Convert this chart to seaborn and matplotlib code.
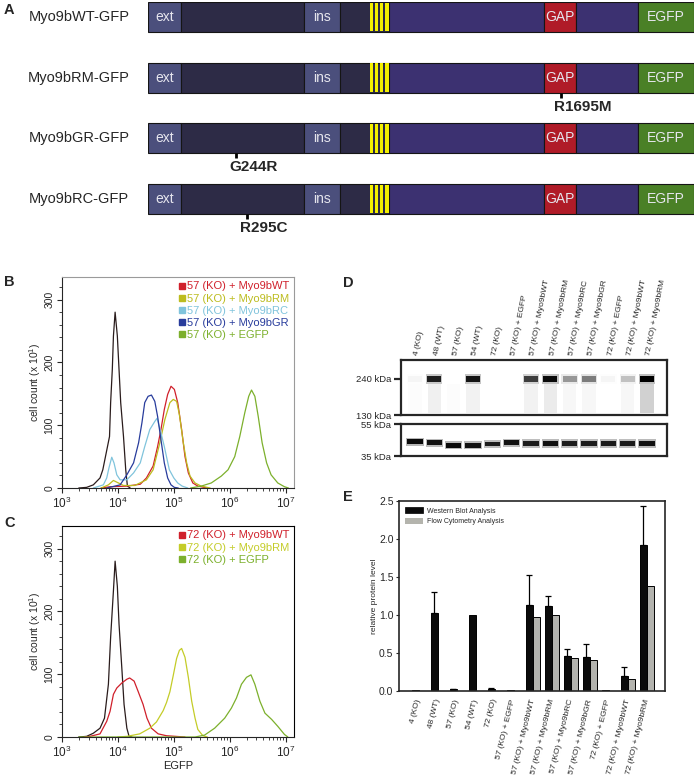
import numpy as np
import pandas as pd
import seaborn as sns
import matplotlib.pyplot as plt
import matplotlib.ticker as mticker
import matplotlib.transforms as mtrans
from matplotlib.lines import Line2D
from matplotlib.patches import Patch

# ---------------- data ----------------
# A: construct schematic (schematic units along the construct)
constructs = ['Myo9bWT-GFP', 'Myo9bRM-GFP', 'Myo9bGR-GFP', 'Myo9bRC-GFP']
dom_names = ['ext', '', 'ins', '', '', 'GAP', '', 'EGFP']
dom_start = [0, 33, 156, 192, 241, 396, 428, 490]
dom_end = [33, 156, 192, 241, 396, 428, 490, 546]
dom_colors = ['#4b4f7c', '#2d2b46', '#4b4f7c', '#2d2b46', '#3c3171', '#b01b28', '#3c3171', '#4a8026']
iq_start = [222, 227, 232, 237]
iq_width = [3.4, 3.4, 3.4, 4.0]
mut_row = [1, 2, 3]
mut_pos = [413, 88, 99]
mut_label = ['R1695M', 'G244R', 'R295C']

# B / C: flow cytometry histograms (log10 EGFP, cell count x10)
b_samples = ['control', '57 (KO) + Myo9bWT', '57 (KO) + Myo9bRM', '57 (KO) + Myo9bRC',
             '57 (KO) + Myo9bGR', '57 (KO) + EGFP']
b_x = {
    'control': [3.30, 3.44, 3.56, 3.68, 3.73, 3.85, 3.87, 3.90, 3.92, 3.95, 3.99, 4.02, 4.05, 4.10, 4.14, 4.17, 4.22],
    '57 (KO) + Myo9bWT': [3.70, 3.86, 4.16, 4.40, 4.51, 4.63, 4.71, 4.77, 4.83, 4.89, 4.95, 5.01, 5.07, 5.14, 5.20, 5.26, 5.34, 5.43, 5.60],
    '57 (KO) + Myo9bRM': [3.70, 3.83, 3.92, 4.01, 4.10, 4.30, 4.51, 4.63, 4.75, 4.84, 4.93, 4.99, 5.05, 5.10, 5.17, 5.23, 5.29, 5.38, 5.49, 5.65],
    '57 (KO) + Myo9bRC': [3.56, 3.74, 3.80, 3.84, 3.89, 3.93, 3.98, 4.04, 4.16, 4.28, 4.40, 4.48, 4.57, 4.66, 4.70, 4.77, 4.83, 4.92, 5.00, 5.07, 5.15, 5.25],
    '57 (KO) + Myo9bGR': [3.80, 4.04, 4.16, 4.28, 4.37, 4.43, 4.48, 4.54, 4.60, 4.66, 4.71, 4.77, 4.83, 4.89, 4.95, 5.01, 5.08],
    '57 (KO) + EGFP': [5.30, 5.49, 5.67, 5.85, 5.97, 6.09, 6.18, 6.27, 6.34, 6.39, 6.45, 6.51, 6.58, 6.66, 6.74, 6.86, 6.98, 7.05],
}
b_y = {
    'control': [0, 1, 5, 16, 29, 82, 136, 189, 242, 280, 242, 189, 136, 82, 29, 3, 0],
    '57 (KO) + Myo9bWT': [0, 2, 3, 6, 16, 35, 66, 93, 125, 149, 162, 157, 136, 93, 50, 24, 8, 3, 0],
    '57 (KO) + Myo9bRM': [0, 5, 12, 8, 4, 4, 13, 29, 72, 109, 136, 141, 138, 117, 72, 40, 19, 8, 3, 0],
    '57 (KO) + Myo9bRC': [0, 5, 16, 32, 49, 40, 21, 13, 13, 24, 40, 66, 93, 106, 111, 88, 66, 29, 16, 8, 3, 0],
    '57 (KO) + Myo9bGR': [0, 5, 21, 40, 72, 104, 136, 146, 148, 138, 114, 77, 40, 16, 5, 1, 0],
    '57 (KO) + EGFP': [0, 3, 8, 19, 29, 50, 82, 120, 146, 156, 146, 114, 72, 40, 21, 8, 2, 0],
}
c_samples = ['control', '72 (KO) + Myo9bWT', '72 (KO) + Myo9bRM', '72 (KO) + EGFP']
c_x = {
    'control': [3.30, 3.44, 3.56, 3.68, 3.76, 3.83, 3.87, 3.92, 3.95, 3.99, 4.02, 4.07, 4.11, 4.16, 4.20, 4.25],
    '72 (KO) + Myo9bWT': [3.40, 3.50, 3.68, 3.80, 3.86, 3.92, 3.98, 4.07, 4.16, 4.21, 4.29, 4.36, 4.45, 4.52, 4.60, 4.72, 4.87, 5.20],
    '72 (KO) + Myo9bRM': [4.00, 4.16, 4.39, 4.57, 4.69, 4.81, 4.87, 4.93, 4.99, 5.05, 5.10, 5.14, 5.20, 5.26, 5.32, 5.38, 5.43, 5.52, 5.60],
    '72 (KO) + EGFP': [3.30, 5.38, 5.55, 5.73, 5.91, 6.03, 6.12, 6.21, 6.30, 6.38, 6.45, 6.54, 6.63, 6.75, 6.86, 6.98, 7.04],
}
c_y = {
    'control': [0, 1, 6, 14, 30, 84, 159, 233, 280, 240, 180, 110, 52, 14, 1, 0],
    '72 (KO) + Myo9bWT': [0, 1, 5, 25, 41, 68, 78, 86, 92, 94, 89, 73, 52, 30, 14, 5, 2, 0],
    '72 (KO) + Myo9bRM': [0, 1, 5, 14, 24, 42, 55, 72, 98, 125, 138, 141, 127, 95, 57, 30, 12, 2, 0],
    '72 (KO) + EGFP': [0, 0, 3, 14, 30, 46, 62, 84, 95, 99, 84, 57, 38, 28, 17, 4, 0],
}
flow_colors = {'control': '#2a1c1c',
               '57 (KO) + Myo9bWT': '#d0202b', '57 (KO) + Myo9bRM': '#bcbc1e',
               '57 (KO) + Myo9bRC': '#80c4dc', '57 (KO) + Myo9bGR': '#283c9c',
               '57 (KO) + EGFP': '#7cb02c',
               '72 (KO) + Myo9bWT': '#d0202b', '72 (KO) + Myo9bRM': '#c4cc28',
               '72 (KO) + EGFP': '#7cb02c'}

# D: western blot lanes, band intensities (0-1)
lanes = ['4 (KO)', '48 (WT)', '57 (KO)', '54 (WT)', '72 (KO)', '57 (KO) + EGFP',
         '57 (KO) + Myo9bWT', '57 (KO) + Myo9bRM', '57 (KO) + Myo9bRC', '57 (KO) + Myo9bGR',
         '72 (KO) + EGFP', '72 (KO) + Myo9bWT', '72 (KO) + Myo9bRM']
myo9b_band = [0.03, 0.85, 0.0, 0.9, 0.0, 0.0, 0.7, 0.95, 0.35, 0.45, 0.03, 0.2, 1.0]
myo9b_smear = [0.01, 0.06, 0.01, 0.05, 0.0, 0.0, 0.05, 0.08, 0.03, 0.03, 0.0, 0.03, 0.18]
loading_band = [0.95, 0.9, 0.95, 0.9, 0.85, 0.9, 0.85, 0.9, 0.85, 0.85, 0.85, 0.85, 0.9]
loading_kda = [42.7, 42.1, 40.7, 40.8, 41.5, 42.1, 41.7, 41.7, 41.7, 41.7, 41.7, 41.7, 41.7]

# E: relative protein level
western = [0.01, 1.03, 0.02, 1.00, 0.02, 0.01, 1.13, 1.12, 0.46, 0.45, 0.01, 0.20, 1.92]
western_err = [0.0, 0.27, 0.01, 0.0, 0.015, 0.0, 0.40, 0.13, 0.09, 0.17, 0.0, 0.11, 0.51]
flow = [np.nan, np.nan, np.nan, np.nan, np.nan, np.nan, 0.98, 1.00, 0.44, 0.41, np.nan, 0.16, 1.38]
methods = ['Western Blot Analysis', 'Flow Cytometry Analysis']

# ---------------- style ----------------
sns.set_style('ticks')
plt.rcParams['font.family'] = ['Liberation Sans', 'DejaVu Sans']
plt.rcParams['mathtext.fontset'] = 'custom'
plt.rcParams['mathtext.rm'] = 'Liberation Sans'
plt.rcParams['axes.linewidth'] = 0.8

W, H = 697, 777
fig = plt.figure(figsize=(W / 100, H / 100), dpi=100)


def add_ax(x0, y0, x1, y1):
    return fig.add_axes([x0 / W, 1 - y1 / H, (x1 - x0) / W, (y1 - y0) / H])


# ---------------- A ----------------
axA = add_ax(148, 1.8, 694, 235.4)
widths = [e - s for s, e in zip(dom_start, dom_end)]
for i, name in enumerate(constructs):
    axA.barh(i, widths, left=dom_start, height=0.494, color=dom_colors,
             edgecolor='#151515', linewidth=0.8)
    axA.barh(i, iq_width, left=iq_start, height=0.47, color='#f4f000', edgecolor='none')
    axA.text(-69, i, name, ha='center', va='center', fontsize=10.5, clip_on=False)
    for s, e, lab in zip(dom_start, dom_end, dom_names):
        if lab:
            axA.text((s + e) / 2, i, lab, ha='center', va='center', fontsize=10,
                     color='#e6e6ee')
for r, p, lab in zip(mut_row, mut_pos, mut_label):
    axA.vlines(p, r + 0.247, r + 0.33, color='black', linewidth=2)
    axA.text(p - 7, r + 0.48, lab, ha='left', va='center', fontsize=11, fontweight='bold')
axA.set_xlim(0, 546)
axA.set_ylim(3.6, -0.25)
axA.axis('off')


# ---------------- B / C ----------------
def flow_panel(ax, samples, xs, ys, frame_color):
    rows = []
    for s in samples:
        for lx, c in zip(xs[s], ys[s]):
            rows.append({'egfp': 10 ** lx, 'count': c, 'sample': s})
    df = pd.DataFrame(rows)
    ax.set_xscale('log')
    sns.lineplot(data=df, x='egfp', y='count', hue='sample', hue_order=samples,
                 palette=[flow_colors[s] for s in samples], estimator=None, sort=True,
                 linewidth=0.9, legend=False, ax=ax)
    ax.set_xlim(1e3, 10 ** 7.15)
    ax.set_ylim(0, 336)
    ax.xaxis.set_major_locator(mticker.LogLocator(base=10, numticks=10))
    ax.xaxis.set_minor_locator(mticker.LogLocator(base=10, subs=np.arange(2, 10), numticks=10))
    ax.xaxis.set_minor_formatter(mticker.NullFormatter())
    ax.yaxis.set_major_locator(mticker.MultipleLocator(100))
    ax.yaxis.set_minor_locator(mticker.MultipleLocator(20))
    ax.tick_params(which='major', direction='out', length=3.5, width=0.8, labelsize=8.5, pad=2)
    ax.tick_params(which='minor', direction='out', length=2, width=0.6)
    ax.tick_params(axis='y', labelsize=7.5)
    for t in ax.get_yticklabels():
        t.set_rotation(90)
        t.set_va('center')
    ax.set_ylabel('cell count (x 10$^1$)', fontsize=7.5, labelpad=1)
    ax.set_xlabel('')
    for side in ['top', 'right']:
        ax.spines[side].set_color(frame_color)
    handles = [Line2D([], [], marker='s', linestyle='none', color=flow_colors[s], markersize=4.5)
               for s in samples[1:]]
    leg = ax.legend(handles, samples[1:], loc='upper right', frameon=False, fontsize=8,
                    handletextpad=0.0, labelspacing=0.2, borderaxespad=0.3,
                    handlelength=0.9, borderpad=0.1)
    for t, s in zip(leg.get_texts(), samples[1:]):
        t.set_color(flow_colors[s])


axB = add_ax(62, 277, 294, 488)
flow_panel(axB, b_samples, b_x, b_y, '#9a9a9a')
axC = add_ax(62, 526, 294, 737)
flow_panel(axC, c_samples, c_x, c_y, 'black')
axC.set_xlabel('EGFP', fontsize=8, labelpad=1)

# ---------------- D ----------------
lane_idx = np.arange(len(lanes))
axD1 = add_ax(401, 360, 667, 415)
axD1.set_yscale('log')
axD1.bar(lane_idx, [85] * len(lanes), bottom=135,
         color=[(0, 0, 0, a) for a in myo9b_smear], width=0.7, edgecolor='none')
axD1.bar(lane_idx, [40] * len(lanes), bottom=221,
         color=[(0, 0, 0, a * 0.25) for a in myo9b_band], width=0.85, edgecolor='none')
axD1.bar(lane_idx, [28] * len(lanes), bottom=226,
         color=[(0, 0, 0, a) for a in myo9b_band], width=0.72, edgecolor='none')
axD1.set_ylim(130, 331)
axD1.set_yticks([240, 130])
axD1.set_yticklabels(['240 kDa', '130 kDa'])

axD2 = add_ax(401, 424, 667, 456)
axD2.set_yscale('log')
lo = [k / 1.06 for k in loading_kda]
hi = [k * 1.06 - k / 1.06 for k in loading_kda]
axD2.bar(lane_idx, hi, bottom=lo, color=[(0, 0, 0, a * 0.3) for a in loading_band],
         width=0.9, edgecolor='none')
lo2 = [k / 1.035 for k in loading_kda]
hi2 = [k * 1.035 - k / 1.035 for k in loading_kda]
axD2.bar(lane_idx, hi2, bottom=lo2, color=[(0, 0, 0, a) for a in loading_band],
         width=0.8, edgecolor='none')
axD2.set_ylim(35, 55)
axD2.set_yticks([55, 35])
axD2.set_yticklabels(['55 kDa', '35 kDa'])

for ax in (axD1, axD2):
    ax.set_xlim(-0.72, 13.03)
    ax.set_xticks([])
    ax.yaxis.set_minor_locator(mticker.NullLocator())
    ax.tick_params(axis='y', length=5, width=1.6, labelsize=6.8, pad=2)
    for sp in ax.spines.values():
        sp.set_linewidth(1.6)

trD = mtrans.blended_transform_factory(axD1.transData, axD1.transAxes)
for i, name in enumerate(lanes):
    axD1.text(i + 0.1, 1.08, name, transform=trD, rotation=79, rotation_mode='anchor',
              ha='left', va='center', fontsize=6)

# ---------------- E ----------------
axE = add_ax(399, 501, 665, 691)
dfE = pd.DataFrame({'sample': lanes * 2,
                    'method': [methods[0]] * len(lanes) + [methods[1]] * len(lanes),
                    'value': western + flow}).dropna()
e_colors = ['#0b0b0b', '#b4b4ad']
sns.barplot(data=dfE, x='sample', y='value', hue='method', order=lanes, hue_order=methods,
            palette=e_colors, edgecolor='black', linewidth=0.7, width=0.75,
            errorbar=None, legend=False, ax=axE)
bars = axE.containers[0]
ex, ey, eu = [], [], []
for b, v, e in zip(bars, western, western_err):
    if e > 0:
        ex.append(b.get_x() + b.get_width() / 2)
        ey.append(v)
        eu.append(e)
axE.errorbar(ex, ey, yerr=[np.zeros(len(eu)), eu], fmt='none', ecolor='black',
             elinewidth=0.9, capsize=2.5, capthick=0.9, zorder=5)
axE.set_xlim(-1.05, 12.95)
axE.set_ylim(0, 2.5)
axE.yaxis.set_major_locator(mticker.MultipleLocator(0.5))
axE.yaxis.set_major_formatter(mticker.FormatStrFormatter('%.1f'))
axE.tick_params(axis='y', length=2.5, width=0.8, labelsize=7.5, pad=1.5)
axE.tick_params(axis='x', length=0, labelsize=6, pad=6)
plt.setp(axE.get_xticklabels(), rotation=76, ha='right', va='center', rotation_mode='anchor')
axE.set_xlabel('')
axE.set_ylabel('relative protein level', fontsize=6, labelpad=1)
for sp in axE.spines.values():
    sp.set_linewidth(1.2)
    sp.set_visible(True)
leg_handles = [Patch(facecolor=e_colors[0], edgecolor='black', linewidth=0.5),
               Patch(facecolor=e_colors[1], edgecolor='none')]
axE.legend(leg_handles, methods, loc='upper left', frameon=False, fontsize=5,
           handlelength=2.6, handleheight=0.9, borderaxespad=0.5, labelspacing=0.5,
           handletextpad=0.6)

# ---------------- panel letters ----------------
for lab, x, y in [('A', 4, 10), ('B', 4, 282), ('C', 4, 523), ('D', 343, 283), ('E', 343, 497)]:
    fig.text(x / W, 1 - y / H, lab, fontsize=10.5, fontweight='bold', va='center', ha='left')

fig.savefig('out.png', dpi=100)
